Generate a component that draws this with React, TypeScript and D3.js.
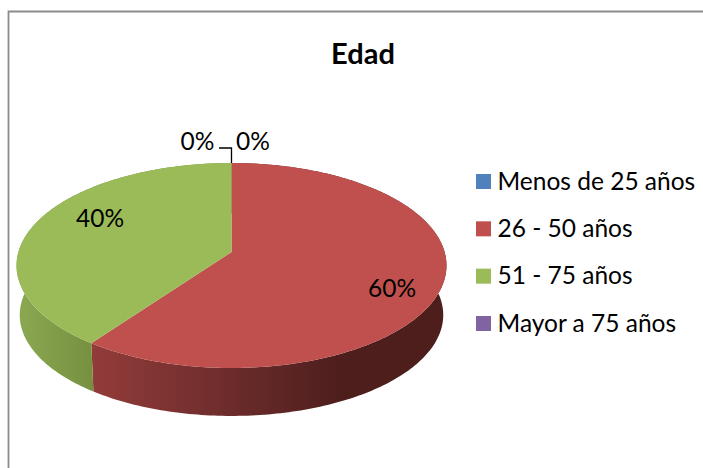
import React from "react";
import * as d3 from "d3";

const title = "Edad";
const categories = ["Menos de 25 años", "26 - 50 años", "51 - 75 años", "Mayor a 75 años"];
const values = [0, 60, 40, 0];
const colors = ["#4f81bd", "#c0504d", "#9bbb59", "#8064a2"];
const labelAnchors = [
  { x: 253, y: 150 },
  { x: 392, y: 297 },
  { x: 100, y: 227 },
  { x: 197.5, y: 150 },
];

const FONT = "Lato, Carlito, Calibri, sans-serif";
const cx = 231.5;
const apexY = 252;
const W = 213.1;
const H = 100.7;
const K = 0.1317;
const depth = 49.7;
const bottomScale = 0.985;

// Perspective projection of a point on the pie's disc
function project(theta: number, r = 1, s = 1, dy = 0): [number, number] {
  const a = r * Math.sin(theta);
  const b = r * Math.cos(theta);
  const den = 1 + K * b;
  return [cx + (s * W * a) / den, apexY + dy - (s * H * b) / den];
}

const line = d3.line<[number, number]>().curve(d3.curveLinear);

function arcPoints(a0: number, a1: number, s = 1, dy = 0): [number, number][] {
  const n = Math.max(2, Math.ceil(((a1 - a0) * 180) / Math.PI));
  return d3.range(n + 1).map((i) => project(a0 + ((a1 - a0) * i) / n, 1, s, dy));
}

export default function App() {
  const pie = d3.pie<number>().sort(null).startAngle(0).endAngle(2 * Math.PI);
  const arcs = pie(values);
  const total = d3.sum(values);
  const pct = d3.format(".0%");
  const legendY = d3.scalePoint<string>().domain(categories).range([181.5, 323.5]);
  const apex = project(0, 0);

  return (
    <svg width={703} height={468} style={{ position: "absolute", left: 0, top: 0, background: "#fff" }} fontFamily={FONT}>
      <defs>
        <linearGradient id="side1" gradientUnits="userSpaceOnUse" x1={90} x2={340} y1={0} y2={0}>
          <stop offset="0" stopColor="#933c3a" />
          <stop offset="0.5" stopColor="#702e2d" />
          <stop offset="1" stopColor="#4e1e1d" />
        </linearGradient>
        <linearGradient id="side2" gradientUnits="userSpaceOnUse" x1={18} x2={93} y1={0} y2={0}>
          <stop offset="0" stopColor="#8ba851" />
          <stop offset="1" stopColor="#769040" />
        </linearGradient>
      </defs>
      <path d="M8.5,480V11.5H710" fill="none" stroke="#8c8c8c" strokeWidth={1.8} />
      <text x={363} y={64} textAnchor="middle" fontSize={29} fontWeight={700} fill="#000">{title}</text>

      {arcs.map((d, i) =>
        d.endAngle > d.startAngle ? (
          <path
            key={`side-${i}`}
            d={
              line([
                ...arcPoints(d.startAngle, d.endAngle),
                ...arcPoints(d.startAngle, d.endAngle, bottomScale, depth).reverse(),
              ]) + "Z"
            }
            fill={`url(#side${i})`}
          />
        ) : null
      )}
      {arcs.map((d, i) =>
        d.endAngle > d.startAngle ? (
          <path
            key={`top-${i}`}
            d={line([apex, ...arcPoints(d.startAngle, d.endAngle)]) + "Z"}
            fill={colors[i]}
          />
        ) : null
      )}

      <path d={`M${cx},${project(0)[1]}V148H219`} fill="none" stroke="#000" strokeWidth={1.3} />

      {arcs.map((d, i) => (
        <text key={`lab-${i}`} x={labelAnchors[i].x} y={labelAnchors[i].y} textAnchor="middle" fontSize={24.5} fill="#000">
          {pct(d.value / total)}
        </text>
      ))}

      {categories.map((c, i) => (
        <g key={c}>
          <rect x={476} y={legendY(c)! - 7.5} width={15} height={15} fill={colors[i]} />
          <text x={497.5} y={legendY(c)! + 8} fontSize={24.5} fill="#000">{c}</text>
        </g>
      ))}
    </svg>
  );
}
